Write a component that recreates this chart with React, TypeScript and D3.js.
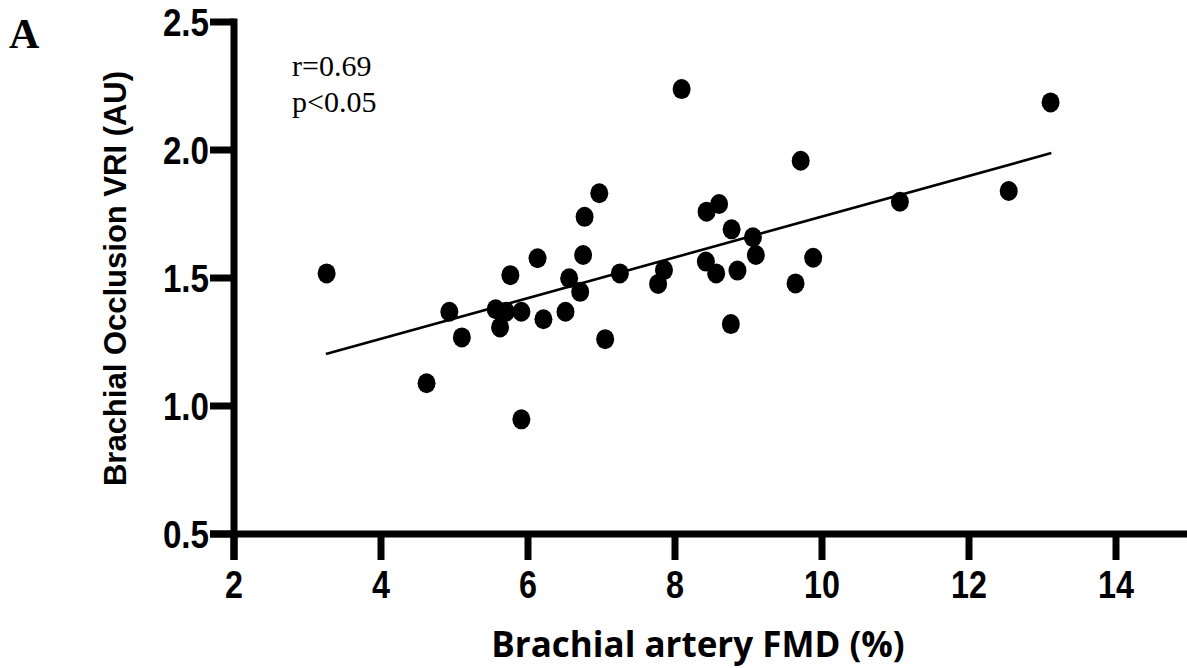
import React from "react";
import * as d3 from "d3";

const fmd: number[] = [
  3.26, 4.62, 4.93, 5.10, 5.56, 5.70, 5.62, 5.76, 5.91, 5.91,
  6.13, 6.21, 6.51, 6.56, 6.71, 6.75, 6.77, 6.97, 7.05, 7.25,
  7.77, 7.85, 8.09, 8.42, 8.43, 8.56, 8.60, 8.76, 8.77, 8.85,
  9.06, 9.10, 9.64, 9.71, 9.88, 11.06, 12.54, 13.11,
];
const vri: number[] = [
  1.518, 1.089, 1.368, 1.268, 1.378, 1.368, 1.307, 1.511, 1.368, 0.948,
  1.577, 1.339, 1.368, 1.499, 1.446, 1.590, 1.739, 1.831, 1.261, 1.518,
  1.477, 1.531, 2.238, 1.564, 1.759, 1.518, 1.789, 1.320, 1.690, 1.529,
  1.659, 1.590, 1.479, 1.958, 1.579, 1.798, 1.840, 2.186,
];
const fitX: number[] = [3.25, 13.12];
const fitY: number[] = [1.203, 1.988];
const xTicks: number[] = [2, 4, 6, 8, 10, 12, 14];
const yTicks: number[] = [0.5, 1.0, 1.5, 2.0, 2.5];
const statLines: string[] = ["r=0.69", "p<0.05"];

export default function App() {
  const W = 1187;
  const H = 668;
  const x = d3.scaleLinear().domain([2, 15]).range([234, 234 + 13 * 73.5]);
  const y = d3.scaleLinear().domain([0.5, 2.5]).range([534, 22]);
  const line = d3
    .line<number>()
    .x((d) => x(fitX[d]))
    .y((d) => y(fitY[d]));
  const axW = 7;
  const x0 = x(2);
  const y0 = y(0.5);
  const tickFont = "'Liberation Sans', Arial, sans-serif";
  return (
    <svg
      width={W}
      height={H}
      style={{ position: "absolute", left: 0, top: 0, background: "#fff" }}
    >
      <rect width={W} height={H} fill="#fff" />
      {/* fit line */}
      <path d={line([0, 1]) || ""} stroke="#000" strokeWidth={2.6} fill="none" />
      {/* points */}
      {fmd.map((v, i) => (
        <ellipse key={i} cx={x(v)} cy={y(vri[i])} rx={9} ry={10} fill="#000" />
      ))}
      {/* y axis */}
      <line x1={x0} x2={x0} y1={y(2.5) - axW / 2} y2={y0 + 26} stroke="#000" strokeWidth={axW} />
      {yTicks.map((t) => (
        <g key={"y" + t}>
          <line x1={x0 - 24} x2={x0} y1={y(t)} y2={y(t)} stroke="#000" strokeWidth={axW} />
          <text
            transform={`translate(${x0 - 25},${y(t)}) scale(0.85,1)`}
            dy="0.36em"
            textAnchor="end"
            fontFamily={tickFont}
            fontWeight="bold"
            fontSize={39}
          >
            {t.toFixed(1)}
          </text>
        </g>
      ))}
      {/* x axis */}
      <line x1={x0 - 24} x2={W + 10} y1={y0} y2={y0} stroke="#000" strokeWidth={axW} />
      {xTicks.map((t) => (
        <g key={"x" + t}>
          <line x1={x(t)} x2={x(t)} y1={y0} y2={y0 + 26} stroke="#000" strokeWidth={axW} />
          <text
            transform={`translate(${x(t)},598) scale(0.85,1)`}
            textAnchor="middle"
            fontFamily={tickFont}
            fontWeight="bold"
            fontSize={38}
          >
            {t}
          </text>
        </g>
      ))}
      {/* axis titles */}
      <text
        x={698}
        y={657}
        textAnchor="middle"
        fontFamily="'Open Sans', sans-serif"
        fontWeight="bold"
        fontSize={35}
      >
        Brachial artery FMD (%)
      </text>
      <text
        transform={`translate(126, 278.5) rotate(-90)`}
        textAnchor="middle"
        fontFamily={tickFont}
        fontWeight="bold"
        fontSize={31}
      >
        Brachial Occlusion VRI (AU)
      </text>
      {/* panel label */}
      <text x={9} y={48} fontFamily="'Liberation Serif', 'Times New Roman', serif" fontWeight="bold" fontSize={42}>
        A
      </text>
      {statLines.map((s, i) => (
        <text
          key={s}
          x={292}
          y={76 + i * 36}
          fontFamily="'Liberation Serif', 'Times New Roman', serif"
          fontSize={30}
        >
          {s}
        </text>
      ))}
    </svg>
  );
}
